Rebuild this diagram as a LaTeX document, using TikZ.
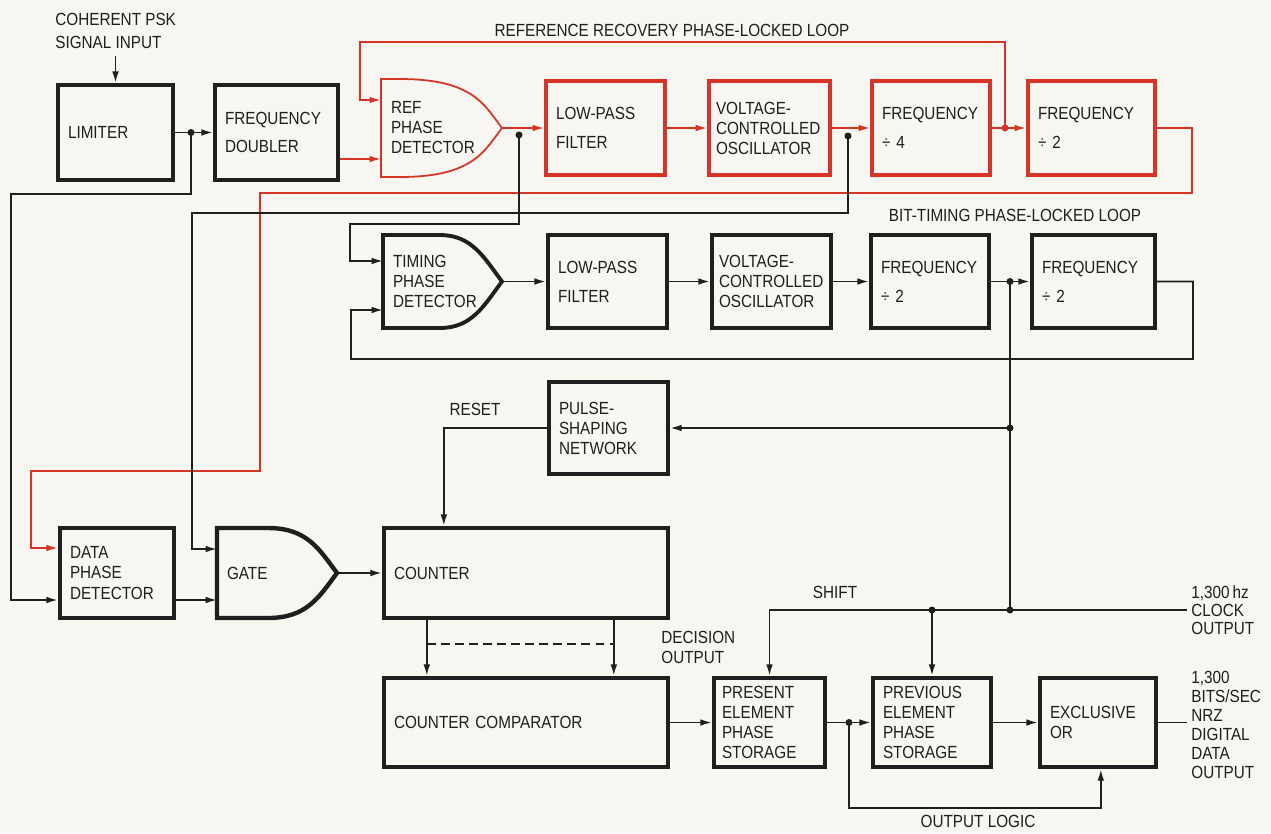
\documentclass[tikz,border=0pt]{standalone}
\usepackage{fontspec}
\setmainfont{Liberation Sans}[FakeStretch=0.87]
\usetikzlibrary{arrows.meta, positioning, calc}

\definecolor{loopred}{RGB}{214,52,38}
\definecolor{ink}{RGB}{32,30,30}
\definecolor{paper}{RGB}{248,246,240}

\tikzset{
  blk/.style={draw=ink, line width=2.5pt, rectangle, align=left, inner xsep=0.2cm,
    inner ysep=0pt, text=ink, font=\fontsize{10}{11.4}\selectfont},
  redblk/.style={blk, draw=loopred, line width=2.2pt},
  detbox/.style={blk, draw=none, outer sep=0pt},
  wire/.style={draw=ink, line width=1pt, -{Latex[length=6.5pt,width=3.8pt]}},
  redwire/.style={wire, draw=loopred},
  plain/.style={draw=ink, line width=1pt},
  lbl/.style={text=ink, align=left, inner sep=0pt, font=\fontsize{10}{11.4}\selectfont}
}

% outline of a phase detector / gate, drawn round its node
\newcommand{\detoutline}[3]{%
  \draw[#3] (#1.north west) -- ++(#2,0)
    .. controls ($(#1.north east)+(-30,0)$) and ($(#1.east)+(-18,-24)$) .. (#1.east)
    .. controls ($(#1.east)+(-18,24)$) and ($(#1.south east)+(-30,0)$) .. ($(#1.south west)+(#2,0)$)
    -- (#1.south west) -- cycle;}

\begin{document}
\begin{tikzpicture}[x=0.02cm, y=-0.02cm]
  \useasboundingbox (0,0) rectangle (1271,833);
  \fill[paper] (0,0) rectangle (1271,833);

  % Input stage
  \node[lbl, anchor=north west, font=\fontsize{10}{13}\selectfont] (psk) at (55,13) {COHERENT PSK\\SIGNAL INPUT};
  \node[blk, text width=1.9cm, minimum height=1.9cm] (lim) at (115.5,132.5) {LIMITER};
  \node[blk, text width=2.06cm, minimum height=1.9cm] (dbl) at (276.5,132.5) {FREQUENCY\\[5pt]DOUBLER};

  % Reference recovery loop
  \node[detbox, text width=2.02cm, minimum height=1.96cm] (refpd) at (441.5,128) {REF\\PHASE\\DETECTOR};
  \detoutline{refpd}{19}{draw=loopred, line width=1pt}
  \node[redblk, text width=1.98cm, minimum height=1.88cm] (lpf1) at (605.5,128) {LOW-PASS\\[5pt]FILTER};
  \node[redblk, text width=2.14cm, inner xsep=0.14cm, minimum height=1.88cm] (vco1) at (769.5,128) {VOLTAGE-\\CONTROLLED\\OSCILLATOR};
  \node[redblk, text width=1.96cm, minimum height=1.88cm] (div4) at (931,128) {FREQUENCY\\[5pt]÷ 4};
  \node[redblk, text width=2.14cm, minimum height=1.88cm] (div2a) at (1091.5,128) {FREQUENCY\\[5pt]÷ 2};

  % Bit-timing loop
  \node[detbox, text width=1.98cm, minimum height=1.86cm] (tpd) at (442.5,281.5) {TIMING\\PHASE\\DETECTOR};
  \detoutline{tpd}{57}{draw=ink, line width=2.2pt}
  \node[blk, text width=1.98cm, minimum height=1.86cm] (lpf2) at (607.5,281.5) {LOW-PASS\\[5pt]FILTER};
  \node[blk, text width=2.1cm, inner xsep=0.14cm, minimum height=1.86cm] (vco2) at (771.5,281.5) {VOLTAGE-\\CONTROLLED\\OSCILLATOR};
  \node[blk, text width=1.96cm, minimum height=1.86cm] (div2b) at (930,281.5) {FREQUENCY\\[5pt]÷ 2};
  \node[blk, text width=2.06cm, minimum height=1.86cm] (div2c) at (1093.5,281.5) {FREQUENCY\\[5pt]÷ 2};

  % Decision logic
  \node[blk, text width=1.98cm, minimum height=1.84cm] (pulse) at (608.5,428) {PULSE-\\SHAPING\\NETWORK};
  \node[blk, text width=1.88cm, minimum height=1.8cm] (data) at (117,573) {DATA\\PHASE\\DETECTOR};
  \node[detbox, text width=2.0cm, minimum height=1.8cm] (gate) at (277,573) {GATE};
  \detoutline{gate}{51}{draw=ink, line width=2.5pt}
  \node[blk, text width=5.28cm, minimum height=1.8cm] (counter) at (526,573) {COUNTER};
  \node[blk, text width=5.28cm, minimum height=1.78cm] (comp) at (526,722.5) {COUNTER COMPARATOR};
  \node[blk, text width=1.9cm, inner xsep=0.16cm, minimum height=1.78cm] (present) at (769.5,722.5) {PRESENT\\ELEMENT\\PHASE\\STORAGE};
  \node[blk, text width=1.96cm, minimum height=1.78cm] (previous) at (932,722.5) {PREVIOUS\\ELEMENT\\PHASE\\STORAGE};
  \node[blk, text width=1.92cm, minimum height=1.78cm] (xor) at (1098,722.5) {EXCLUSIVE\\OR};

  % Input points and bends
  \coordinate (refin1) at ($(refpd.west)+(0,-28)$);
  \coordinate (refin2) at ($(refpd.west)+(0,31)$);
  \coordinate (tpdin1) at ($(tpd.west)+(0,-20.5)$);
  \coordinate (tpdin2) at ($(tpd.west)+(0,28.5)$);
  \coordinate (gatein1) at ($(gate.west)+(0,-24)$);
  \coordinate (gatein2) at ($(gate.west)+(0,27)$);
  \coordinate (datain1) at ($(data.west)+(0,-25)$);
  \coordinate (datain2) at ($(data.west)+(0,27)$);
  \coordinate (j1) at (191,132.5);
  \coordinate (rpj) at (519,135);
  \coordinate (vj) at (848,136);
  \coordinate (rj) at (1005,128);
  \coordinate (tj) at (1010,281.5);
  \coordinate (pj) at (1010,428);
  \coordinate (clk) at (1187,610);
  \coordinate (cj) at (1010,610);
  \coordinate (sj) at (previous.north |- clk);
  \coordinate (oj) at (849,722.5);
  \coordinate (dout) at (1187,722.5);
  \coordinate (rtop) at (360,42);
  \coordinate (rb1) at (1192,193);
  \coordinate (rb2) at (260,471);
  \coordinate (rb3) at (31,548);
  \coordinate (bl1) at (11,194);
  \coordinate (bl2) at (192,213);
  \coordinate (bl3) at (350,224);
  \coordinate (bl4) at (1193,359);
  \coordinate (bl5) at (351,310);
  \coordinate (olb) at (849,808);

  % Red connectors
  \draw[redwire] ($(dbl.east)+(0,26.5)$) -- (refin2);
  \draw[redwire] (refpd.east) -- (lpf1.west);
  \draw[redwire] (lpf1) -- (vco1);
  \draw[redwire] (vco1) -- (div4);
  \draw[redwire] (div4) -- (div2a);
  \draw[redwire] (rj) |- (rtop) |- (refin1);
  \draw[redwire] (div2a.east) -| (rb1) -| (rb2) -| (rb3) -- (datain1);
  \fill[loopred] (rj) circle[radius=0.07cm];

  % Black connectors, top
  \draw[wire] ($(psk.south -| lim.north)+(0,7)$) -- (lim.north);
  \draw[wire] (lim) -- (dbl);
  \draw[wire] (j1) |- (bl1) |- (datain2);
  \draw[wire] (vj) |- (bl2) |- (gatein1);
  \draw[wire] (rpj) |- (bl3) |- (tpdin1);
  \fill[ink] (j1) circle[radius=0.07cm];
  \fill[ink] (vj) circle[radius=0.07cm];
  \fill[ink] (rpj) circle[radius=0.07cm];

  % Bit-timing loop connectors
  \draw[wire] (tpd.east) -- (lpf2.west);
  \draw[wire] (lpf2) -- (vco2);
  \draw[wire] (vco2) -- (div2b);
  \draw[wire] (div2b) -- (div2c);
  \draw[wire] (div2c.east) -| (bl4) -| (bl5) -- (tpdin2);
  \draw[plain] (tj) -- (cj);
  \draw[wire] (pj) -- (pulse.east);
  \fill[ink] (tj) circle[radius=0.07cm];
  \fill[ink] (pj) circle[radius=0.07cm];

  % Counter and gate
  \draw[wire] (pulse.west) -| ($(counter.north west)+(62,0)$);
  \draw[wire] ($(data.east)+(0,27)$) -- (gatein2);
  \draw[wire] (gate.east) -- (counter.west);
  \draw[wire] ($(counter.south west)+(45,0)$) -- ($(comp.north west)+(45,0)$);
  \draw[wire] ($(counter.south west)+(232,0)$) -- ($(comp.north west)+(232,0)$);
  \draw[plain, dash pattern=on 5pt off 3pt] ($(counter.south west)+(45,24)$) -- ($(counter.south west)+(232,24)$);

  % Output stage
  \draw[wire] (comp) -- (present);
  \draw[wire] (present) -- (previous);
  \draw[wire] (previous) -- (xor);
  \draw[plain] (xor.east) -- (dout);
  \draw[wire] (oj) -- (olb) -| ($(xor.south west)+(63,0)$);
  \draw[wire] (clk) -| (present.north);
  \draw[wire] (sj) -- (previous.north);
  \fill[ink] (oj) circle[radius=0.07cm];
  \fill[ink] (sj) circle[radius=0.07cm];
  \fill[ink] (cj) circle[radius=0.07cm];

  % Labels
  \node[lbl] (reflbl) at (672,30) {REFERENCE RECOVERY PHASE-LOCKED LOOP};
  \node[lbl] (bitlbl) at (1015,215) {BIT-TIMING PHASE-LOCKED LOOP};
  \node[lbl] (rstlbl) at (475,409) {RESET};
  \node[lbl] (shiftlbl) at (835,592) {SHIFT};
  \node[lbl, anchor=west] (declbl) at (661,647) {DECISION\\OUTPUT};
  \node[lbl, anchor=west, font=\fontsize{10}{10.2}\selectfont] (clklbl) at (1191,610) {1,300\,hz\\CLOCK\\OUTPUT};
  \node[lbl, anchor=west, font=\fontsize{10}{10.8}\selectfont] (outlbl) at (1191,725) {1,300\\BITS/SEC\\NRZ\\DIGITAL\\DATA\\OUTPUT};
  \node[lbl] (loglbl) at (978,821) {OUTPUT LOGIC};
\end{tikzpicture}
\end{document}
